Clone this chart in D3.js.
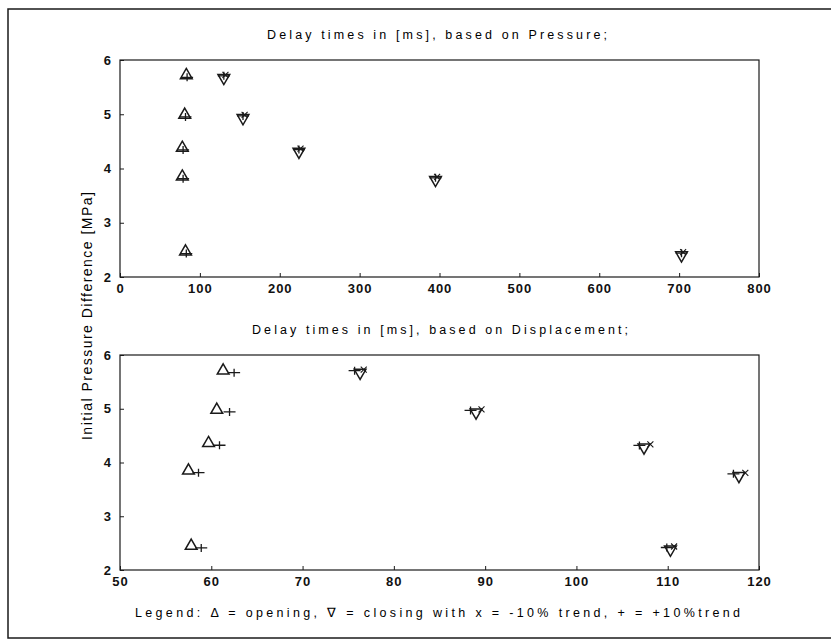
<!DOCTYPE html>
<html>
<head>
<meta charset="utf-8">
<script src="https://cdn.jsdelivr.net/npm/d3@7"></script>
<style>
  body { margin: 0; background: #fff; }
  svg { display: block; font-family: "Liberation Sans", Arial, sans-serif; }
</style>
</head>
<body>
<svg id="chart" width="831" height="641"></svg>
<script>
// pressure levels [MPa] shared by both panels
const pressure = [5.7, 4.97, 4.36, 3.83, 2.45];

// top panel: delay based on pressure [ms]
const pOpening = [83, 81, 78, 78, 82];
const pOpeningPlus = [84, 82, 79, 79, 83];
const pClosing = [130, 154, 224, 395, 703];
const pClosingY = [5.69, 4.95, 4.33, 3.81, 2.42];

// bottom panel: delay based on displacement [ms]
const dOpening = [61.3, 60.6, 59.7, 57.5, 57.8];
const dOpeningPlus = [62.5, 62.0, 60.9, 58.6, 58.9];
const dOpeningY = [5.69, 4.96, 4.34, 3.83, 2.43];
const dClosing = [76.3, 89.0, 107.4, 117.8, 110.3];
const dClosingPlus = [75.7, 88.4, 106.9, 117.2, 109.9];
const dClosingMinus = [76.7, 89.6, 108.1, 118.5, 110.7];
const dClosingY = [5.69, 4.95, 4.3, 3.77, 2.4];

const topTicksX = [0, 100, 200, 300, 400, 500, 600, 700, 800];
const bottomTicksX = [50, 60, 70, 80, 90, 100, 110, 120];
const ticksY = [2, 3, 4, 5, 6];

const svg = d3.select("#chart");
const ink = "#1a1a1a";

// outer frame of the scanned figure
svg.append("rect")
    .attr("x", 8).attr("y", 9)
    .attr("width", 840).attr("height", 629)
    .attr("fill", "none").attr("stroke", ink).attr("stroke-width", 1.5);

const symUp = d3.symbol().type(d3.symbolTriangle).size(60);
const symCross = "M-6,0H6M0,-4V4";
const symX = "M-3,-3L3,3M-3,3L3,-3";

const styleTicks = (a) => {
    a.select(".domain").remove();
    a.selectAll("line").attr("stroke", ink);
    a.selectAll("text")
        .attr("font-size", 13)
        .attr("font-weight", "bold")
        .attr("letter-spacing", 1)
        .attr("fill", "#111")
        .attr("font-family", "Liberation Sans, Arial");
};

const drawPanel = (cfg) => {
    const x = d3.scaleLinear().domain(cfg.xDomain).range([120, 759]);
    const y = d3.scaleLinear().domain([2, 6]).range([cfg.bottom, cfg.top]);
    const g = svg.append("g");

    g.append("rect")
        .attr("x", 120).attr("y", cfg.top)
        .attr("width", 639).attr("height", cfg.bottom - cfg.top)
        .attr("fill", "none").attr("stroke", ink).attr("stroke-width", 1.2);

    const xAxis = d3.axisBottom(x).tickValues(cfg.ticksX).tickFormat(d3.format("d"))
        .tickSizeInner(-4).tickSizeOuter(0).tickPadding(7);
    g.append("g")
        .attr("transform", `translate(0,${cfg.bottom})`)
        .call(xAxis)
        .call(styleTicks);

    const yAxis = d3.axisLeft(y).tickValues(ticksY).tickFormat(d3.format("d"))
        .tickSizeInner(-4).tickSizeOuter(0).tickPadding(8);
    g.append("g")
        .attr("transform", "translate(120,0)")
        .call(yAxis)
        .call(styleTicks);

    g.append("text")
        .attr("x", cfg.titleX).attr("y", cfg.top - 21)
        .attr("font-size", 12.5)
        .attr("textLength", cfg.titleLen).attr("lengthAdjust", "spacing")
        .text(cfg.title);

    // opening: upward triangles
    g.selectAll(".op").data(cfg.opening).enter().append("path")
        .attr("class", "op")
        .attr("d", symUp)
        .attr("transform", (d, i) => `translate(${x(d)},${y(cfg.openingY[i]) - 1})`)
        .attr("fill", "none").attr("stroke", ink).attr("stroke-width", 1.5);
    g.selectAll(".opp").data(cfg.openingPlus).enter().append("path")
        .attr("class", "opp")
        .attr("d", symCross)
        .attr("transform", (d, i) => `translate(${x(d)},${y(cfg.openingY[i]) + 1})`)
        .attr("fill", "none").attr("stroke", ink).attr("stroke-width", 1.3);

    // closing: downward triangles with +/- trend marks
    g.selectAll(".cl").data(cfg.closing).enter().append("path")
        .attr("class", "cl")
        .attr("d", symUp)
        .attr("transform", (d, i) => `translate(${x(d)},${y(cfg.closingY[i]) + 1}) rotate(180)`)
        .attr("fill", "none").attr("stroke", ink).attr("stroke-width", 1.5);
    g.selectAll(".clp").data(cfg.closingPlus).enter().append("path")
        .attr("class", "clp")
        .attr("d", symCross)
        .attr("transform", (d, i) => `translate(${x(d)},${y(cfg.closingY[i]) - 1})`)
        .attr("fill", "none").attr("stroke", ink).attr("stroke-width", 1.3);
    g.selectAll(".clm").data(cfg.closingMinus).enter().append("path")
        .attr("class", "clm")
        .attr("d", symX)
        .attr("transform", (d, i) => `translate(${x(d)},${y(cfg.closingY[i]) - 2})`)
        .attr("fill", "none").attr("stroke", ink).attr("stroke-width", 1.1);
};

drawPanel({
    top: 60, bottom: 277,
    xDomain: [0, 800], ticksX: topTicksX,
    title: "Delay times in [ms], based on Pressure;", titleX: 267, titleLen: 340,
    opening: pOpening, openingPlus: pOpeningPlus, openingY: pressure,
    closing: pClosing, closingPlus: pClosing, closingMinus: pClosing.map(v => v + 2), closingY: pClosingY
});

drawPanel({
    top: 355, bottom: 570,
    xDomain: [50, 120], ticksX: bottomTicksX,
    title: "Delay times in [ms], based on Displacement;", titleX: 252, titleLen: 376,
    opening: dOpening, openingPlus: dOpeningPlus, openingY: dOpeningY,
    closing: dClosing, closingPlus: dClosingPlus, closingMinus: dClosingMinus, closingY: dClosingY
});

// shared y label
svg.append("text")
    .attr("transform", "translate(92,316) rotate(-90)")
    .attr("x", -124)
    .attr("font-size", 14)
    .attr("textLength", 248).attr("lengthAdjust", "spacing")
    .text("Initial Pressure Difference  [MPa]");

// legend line
svg.append("text")
    .attr("x", 135).attr("y", 617)
    .attr("font-size", 12.5)
    .attr("textLength", 605).attr("lengthAdjust", "spacing")
    .text("Legend:  \u0394 = opening, \u2207 = closing with x = -10% trend, + = +10%trend");
</script>
</body>
</html>
